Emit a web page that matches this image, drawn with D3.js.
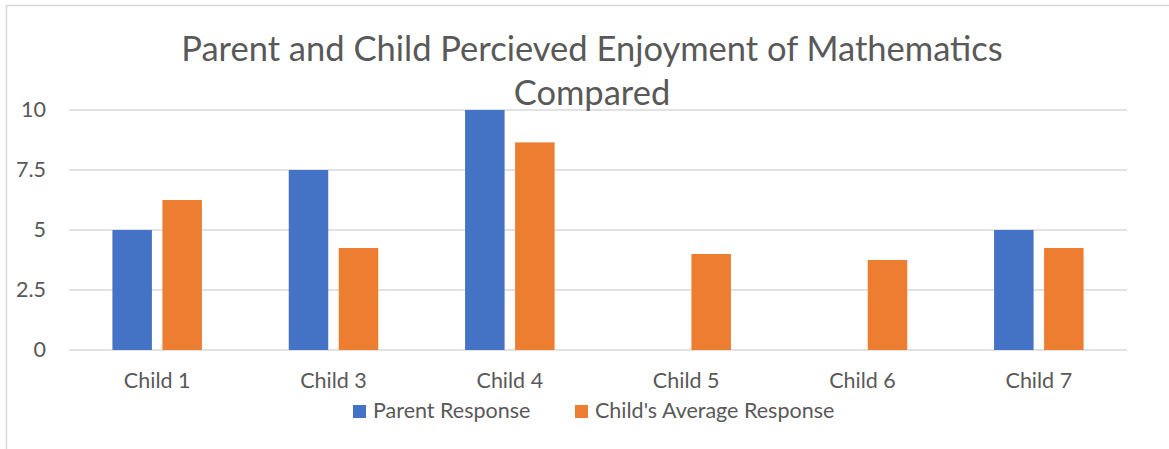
<!DOCTYPE html>
<html>
<head>
<meta charset="utf-8">
<script src="https://cdn.jsdelivr.net/npm/d3@7"></script>
<style>
  body { margin: 0; background: #fff; }
  text { font-family: Lato, "Open Sans", sans-serif; fill: #595959; }
</style>
</head>
<body>
<svg id="chart" width="1169" height="449"></svg>
<script>
// data
const categories = ["Child 1", "Child 3", "Child 4", "Child 5", "Child 6", "Child 7"];
const seriesNames = ["Parent Response", "Child's Average Response"];
const parentValues = [5, 7.5, 10, null, null, 5];
const childValues = [6.25, 4.25, 8.65, 4, 3.75, 4.25];
const yTicks = [0, 2.5, 5, 7.5, 10];
const colors = ["#4472C4", "#ED7D31"];

const width = 1169, height = 449;
const svg = d3.select("#chart");

// outer frame (left + top only show in the picture)
svg.append("path")
  .attr("d", "M6.5,449 V5.5 H1169")
  .attr("fill", "none")
  .attr("stroke", "#d9d9d9")
  .attr("stroke-width", 1.5);

const x0 = d3.scaleBand().domain(categories).range([69, 1127]).padding(0);
const x1 = d3.scaleBand().domain(seriesNames).range([0, x0.bandwidth()])
  .paddingInner(0.21).paddingOuter(0.868);
const y = d3.scaleLinear().domain([0, 10]).range([350, 110]);

// gridlines
svg.append("g")
  .selectAll("line")
  .data(yTicks)
  .join("line")
  .attr("x1", 69).attr("x2", 1127)
  .attr("y1", d => y(d)).attr("y2", d => y(d))
  .attr("stroke", "#d9d9d9")
  .attr("stroke-width", 1.5);

// y labels
svg.append("g")
  .selectAll("text")
  .data(yTicks)
  .join("text")
  .attr("x", 46)
  .attr("y", d => y(d) + 7)
  .attr("text-anchor", "end")
  .style("font-size", "21.5px")
  .text(d => d);

// bars
const rows = categories.map((c, i) => ({ cat: c, vals: [parentValues[i], childValues[i]] }));
svg.append("g")
  .selectAll("g")
  .data(rows)
  .join("g")
  .attr("transform", d => `translate(${x0(d.cat)},0)`)
  .selectAll("rect")
  .data(d => d.vals.map((v, j) => ({ s: seriesNames[j], v, j })).filter(d => d.v != null))
  .join("rect")
  .attr("x", d => x1(d.s))
  .attr("width", x1.bandwidth())
  .attr("y", d => y(d.v))
  .attr("height", d => y(0) - y(d.v))
  .attr("fill", d => colors[d.j]);

// category labels
svg.append("g")
  .selectAll("text")
  .data(categories)
  .join("text")
  .attr("x", d => x0(d) + x0.bandwidth() / 2)
  .attr("y", 388)
  .attr("text-anchor", "middle")
  .style("font-size", "21.5px")
  .text(d => d);

// title
const title = svg.append("text")
  .attr("text-anchor", "middle")
  .style("font-size", "34.5px");
title.append("tspan").attr("x", 592).attr("y", 61)
  .text("Parent and Child Percieved Enjoyment of Mathematics");
title.append("tspan").attr("x", 592).attr("y", 105).text("Compared");

// legend
const legendX = [353, 575];
const legend = svg.append("g")
  .selectAll("g")
  .data(seriesNames)
  .join("g")
  .attr("transform", (d, i) => `translate(${legendX[i]},405)`);
legend.append("rect")
  .attr("width", 13).attr("height", 13)
  .attr("fill", (d, i) => colors[i]);
legend.append("text")
  .attr("x", 20).attr("y", 13)
  .style("font-size", "21.5px")
  .text(d => d);
</script>
</body>
</html>
